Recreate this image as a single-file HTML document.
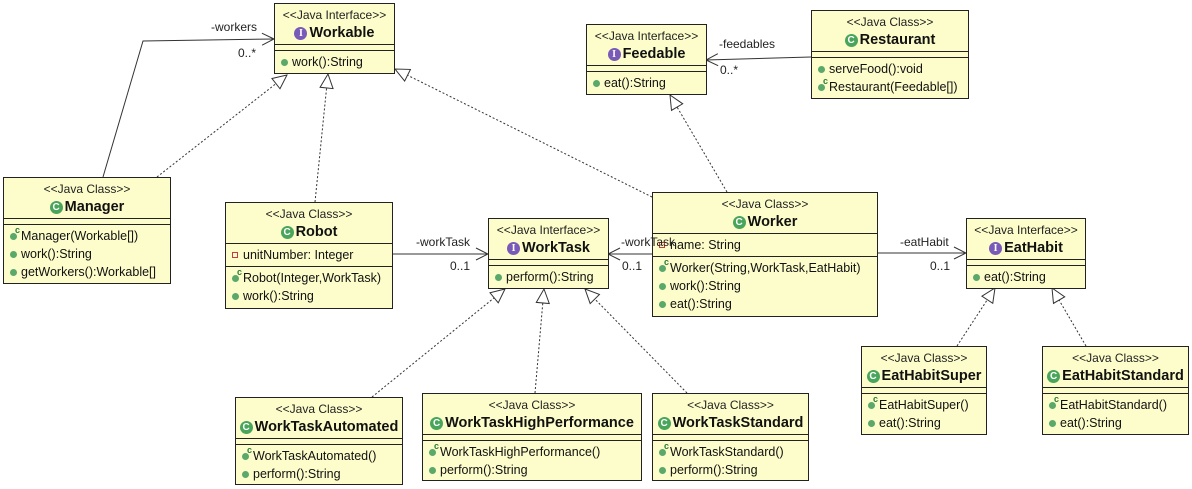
<!DOCTYPE html>
<html><head><meta charset="utf-8"><style>
body{margin:0;width:1192px;height:489px;background:#fff;position:relative;overflow:hidden;font-family:"Liberation Sans",Arial,sans-serif;}
.b{position:absolute;background:#fdfdcb;border:1px solid #222;box-sizing:border-box;}
.h{height:41px;border-bottom:1px solid #222;text-align:center;box-sizing:border-box;}
.st{font-size:12px;color:#222;padding-top:4px;height:16px;line-height:14px;}
.nm{font-size:14.5px;font-weight:bold;line-height:18px;color:#111;}
.e{height:5px;border-bottom:1px solid #222;box-sizing:content-box;}
.c{padding:2px 0 2px 6px;border-bottom:1px solid #222;}
.c:last-child{border-bottom:none;}
.r{height:18px;line-height:18px;font-size:12.5px;color:#111;white-space:nowrap;position:relative;padding-left:11px;}
.r:before{content:"";position:absolute;left:0;top:6px;width:7px;height:7px;border-radius:50%;background:#5aa86a;}
.r.k:after{content:"c";position:absolute;left:5px;top:-6px;font-size:9px;font-weight:bold;color:#2a7a3a;}
.r.p:before{background:none;border:1px solid #c04040;border-radius:0;width:4px;height:4px;top:6px;}
.ic{display:inline-block;width:13px;height:13px;border-radius:50%;color:#fff;font-size:10px;line-height:13px;text-align:center;vertical-align:1px;margin-right:2px;font-weight:bold;}
.g{background:#4aa55c;}.i{background:#7a5ab8;font-family:"Liberation Serif",serif;}
svg{position:absolute;left:0;top:0;}
.t{font-size:12px;fill:#222;}
</style></head><body>
<svg width="1192" height="489">
<defs>
<marker id="tri" viewBox="0 0 16 16" refX="15" refY="8" markerWidth="16" markerHeight="16" markerUnits="userSpaceOnUse" orient="auto"><path d="M1,1.5 L15,8 L1,14.5 Z" fill="#fff" stroke="#333" stroke-width="1"/></marker>
<marker id="opn" viewBox="0 0 14 14" refX="13" refY="7" markerWidth="14" markerHeight="14" markerUnits="userSpaceOnUse" orient="auto"><path d="M1,1 L13,7 L1,13" fill="none" stroke="#333" stroke-width="1"/></marker>
</defs>
<g stroke="#333" fill="none" stroke-width="1">
<polyline points="103,177 143,41 274,39" marker-end="url(#opn)"/>
<line x1="811" y1="57" x2="706" y2="60" marker-end="url(#opn)"/>
<line x1="392" y1="254" x2="488" y2="254" marker-end="url(#opn)"/>
<line x1="652" y1="254" x2="608" y2="254" marker-end="url(#opn)"/>
<line x1="877" y1="253" x2="966" y2="253" marker-end="url(#opn)"/>
<g stroke-dasharray="2,2">
<line x1="157" y1="177" x2="287" y2="75" marker-end="url(#tri)"/>
<line x1="315" y1="202" x2="328" y2="74" marker-end="url(#tri)"/>
<line x1="652" y1="197" x2="395" y2="69" marker-end="url(#tri)"/>
<line x1="727" y1="192" x2="670" y2="95" marker-end="url(#tri)"/>
<line x1="372" y1="397" x2="505" y2="289" marker-end="url(#tri)"/>
<line x1="535" y1="393" x2="544" y2="289" marker-end="url(#tri)"/>
<line x1="687" y1="393" x2="585" y2="289" marker-end="url(#tri)"/>
<line x1="957" y1="346" x2="995" y2="288" marker-end="url(#tri)"/>
<line x1="1086" y1="346" x2="1052" y2="288" marker-end="url(#tri)"/>
</g></g>
</svg>

<div class="b" style="left:274px;top:3px;width:121px;height:71px"><div class="h"><div class="st">&lt;&lt;Java Interface&gt;&gt;</div><div class="nm"><span class="ic i">I</span>Workable</div></div><div class="e"></div><div class="c"><div class="r">work():String</div></div></div>

<div class="b" style="left:586px;top:24px;width:121px;height:71px"><div class="h"><div class="st">&lt;&lt;Java Interface&gt;&gt;</div><div class="nm"><span class="ic i">I</span>Feedable</div></div><div class="e"></div><div class="c"><div class="r">eat():String</div></div></div>

<div class="b" style="left:811px;top:10px;width:158px;height:89px"><div class="h"><div class="st">&lt;&lt;Java Class&gt;&gt;</div><div class="nm"><span class="ic g">C</span>Restaurant</div></div><div class="e"></div><div class="c"><div class="r">serveFood():void</div><div class="r k">Restaurant(Feedable[])</div></div></div>

<div class="b" style="left:3px;top:177px;width:168px;height:107px"><div class="h"><div class="st">&lt;&lt;Java Class&gt;&gt;</div><div class="nm"><span class="ic g">C</span>Manager</div></div><div class="e"></div><div class="c"><div class="r k">Manager(Workable[])</div><div class="r">work():String</div><div class="r">getWorkers():Workable[]</div></div></div>

<div class="b" style="left:225px;top:202px;width:168px;height:107px"><div class="h"><div class="st">&lt;&lt;Java Class&gt;&gt;</div><div class="nm"><span class="ic g">C</span>Robot</div></div><div class="c"><div class="r p">unitNumber: Integer</div></div><div class="c"><div class="r k">Robot(Integer,WorkTask)</div><div class="r">work():String</div></div></div>

<div class="b" style="left:488px;top:218px;width:121px;height:71px"><div class="h"><div class="st">&lt;&lt;Java Interface&gt;&gt;</div><div class="nm"><span class="ic i">I</span>WorkTask</div></div><div class="e"></div><div class="c"><div class="r">perform():String</div></div></div>

<div class="b" style="left:652px;top:192px;width:226px;height:125px"><div class="h"><div class="st">&lt;&lt;Java Class&gt;&gt;</div><div class="nm"><span class="ic g">C</span>Worker</div></div><div class="c"><div class="r p">name: String</div></div><div class="c"><div class="r k">Worker(String,WorkTask,EatHabit)</div><div class="r">work():String</div><div class="r">eat():String</div></div></div>

<div class="b" style="left:966px;top:218px;width:120px;height:71px"><div class="h"><div class="st">&lt;&lt;Java Interface&gt;&gt;</div><div class="nm"><span class="ic i">I</span>EatHabit</div></div><div class="e"></div><div class="c"><div class="r">eat():String</div></div></div>

<div class="b" style="left:235px;top:397px;width:168px;height:88px"><div class="h"><div class="st">&lt;&lt;Java Class&gt;&gt;</div><div class="nm"><span class="ic g">C</span>WorkTaskAutomated</div></div><div class="e"></div><div class="c"><div class="r k">WorkTaskAutomated()</div><div class="r">perform():String</div></div></div>

<div class="b" style="left:422px;top:393px;width:220px;height:88px"><div class="h"><div class="st">&lt;&lt;Java Class&gt;&gt;</div><div class="nm"><span class="ic g">C</span>WorkTaskHighPerformance</div></div><div class="e"></div><div class="c"><div class="r k">WorkTaskHighPerformance()</div><div class="r">perform():String</div></div></div>

<div class="b" style="left:652px;top:393px;width:157px;height:88px"><div class="h"><div class="st">&lt;&lt;Java Class&gt;&gt;</div><div class="nm"><span class="ic g">C</span>WorkTaskStandard</div></div><div class="e"></div><div class="c"><div class="r k">WorkTaskStandard()</div><div class="r">perform():String</div></div></div>

<div class="b" style="left:861px;top:346px;width:126px;height:89px"><div class="h"><div class="st">&lt;&lt;Java Class&gt;&gt;</div><div class="nm"><span class="ic g">C</span>EatHabitSuper</div></div><div class="e"></div><div class="c"><div class="r k">EatHabitSuper()</div><div class="r">eat():String</div></div></div>

<div class="b" style="left:1042px;top:346px;width:147px;height:89px"><div class="h"><div class="st">&lt;&lt;Java Class&gt;&gt;</div><div class="nm"><span class="ic g">C</span>EatHabitStandard</div></div><div class="e"></div><div class="c"><div class="r k">EatHabitStandard()</div><div class="r">eat():String</div></div></div>

<svg width="1192" height="489" style="pointer-events:none">
<text class="t" x="211" y="31">-workers</text><text class="t" x="238" y="57">0..*</text>
<text class="t" x="719" y="48">-feedables</text><text class="t" x="720" y="74">0..*</text>
<text class="t" x="416" y="246">-workTask</text><text class="t" x="450" y="270">0..1</text>
<text class="t" x="621" y="246">-workTask</text><text class="t" x="622" y="270">0..1</text>
<text class="t" x="900" y="246">-eatHabit</text><text class="t" x="930" y="270">0..1</text>
</svg>
</body></html>
